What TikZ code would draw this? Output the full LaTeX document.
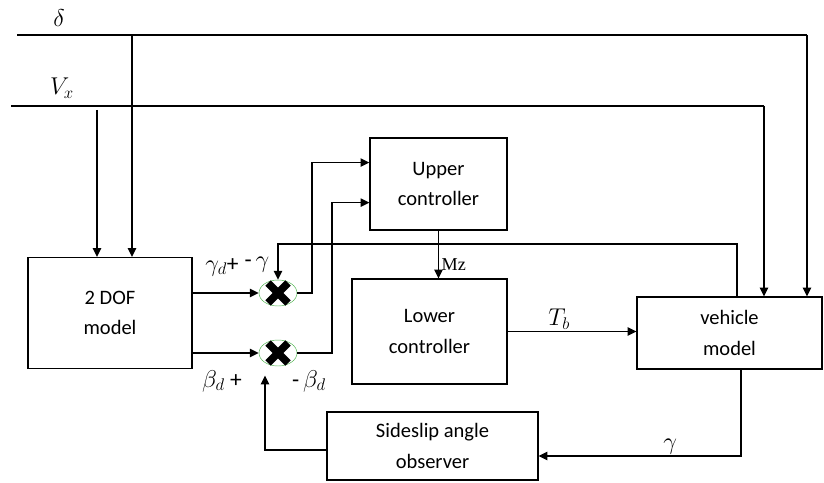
\documentclass[tikz,border=0pt]{standalone}
\usepackage{fontspec}
\setmainfont{Carlito}
\newfontfamily\labserif{Liberation Serif}
\usetikzlibrary{arrows.meta,shapes.geometric,calc}

\begin{document}
\begin{tikzpicture}[x=0.03cm,y=-0.03cm,
  block/.style={draw,line width=1pt,align=center,
    font=\fontsize{17.5}{26}\selectfont},
  sumx/.style={ellipse,draw=green!40!gray,thin,minimum width=1.14cm,
    minimum height=0.78cm,inner sep=0pt},
  sig/.style={line width=1.35pt,-{Triangle[length=7.5pt,width=7pt]}},
  wire/.style={line width=1.35pt},
  lab/.style={font=\fontsize{20}{22}\selectfont,inner sep=1pt}]
  \useasboundingbox (0,0) rectangle (824,482);

  % blocks
  \node[block,minimum width=4.92cm,minimum height=3.33cm] (dof) at (110,313) {2 DOF\\model};
  \node[block,minimum width=4.11cm,minimum height=2.76cm] (upper) at (438.5,184) {Upper\\controller};
  \node[block,minimum width=4.65cm,minimum height=3.15cm] (lower) at (429.5,331.5) {Lower\\controller};
  \node[block,minimum width=5.55cm,minimum height=2.16cm] (vehicle) at (729.5,333) {vehicle\\model};
  \node[block,minimum width=6.33cm,minimum height=2.04cm] (obs) at (432.5,446) {Sideslip angle\\observer};

  % summing points
  \node[sumx] (sumg) at (278,293) {};
  \node[sumx] (sumb) at (278,353) {};
  \foreach \s in {sumg,sumb}{
    \draw[line width=6.5pt] ($(\s)+(-10,-10)$) -- ($(\s)+(10,10)$);
    \draw[line width=6.5pt] ($(\s)+(-10,10)$) -- ($(\s)+(10,-10)$);}

  % inputs
  \coordinate (d0) at (17,35);  \coordinate (d1) at (807,35);  \coordinate (d2) at (132,35);
  \coordinate (v0) at (11,106); \coordinate (v1) at (764,106); \coordinate (v2) at (97,110);
  \node[lab] (dlab) at (59,18) {$\delta$};
  \node[lab] (vlab) at (62,88) {$V_x$};
  \draw[wire] (d0) -- (d1);
  \draw[sig] (d1) -- (d1 |- vehicle.north);
  \draw[wire] (v0) -- (v1);
  \draw[sig] (v1) -- (v1 |- vehicle.north);
  \draw[sig] (d2) -- (d2 |- dof.north);
  \draw[sig] (v2) -- (v2 |- dof.north);

  % references to the summing points
  \draw[sig] (dof.east |- sumg) -- (sumg.west);
  \draw[sig] (dof.east |- sumb) -- (sumb.west);
  \node[lab] (gdlab) at (222,267) {$\gamma_d$+};
  \node[lab] (glab) at (257,265) {-\,$\gamma$};
  \node[lab] (bdlab) at (222,381) {$\beta_d$ +};
  \node[lab] (blab) at (309,381) {-\,$\beta_d$};

  % errors to the upper controller
  \coordinate (u1) at ($(upper.north west)!0.27!(upper.south west)$);
  \coordinate (u2) at ($(upper.north west)!0.70!(upper.south west)$);
  \draw[sig] (sumg.east) -- ++(15,0) |- (u1);
  \draw[sig] (sumb.east) -- ++(35,0) |- (u2);

  % controllers to vehicle
  \draw[sig] (upper.south) -- (upper.south |- lower.north)
    node[pos=0.7,right,inner sep=2pt,font=\labserif\fontsize{15.5}{18}\selectfont] (mz) {Mz};
  \draw[sig] (lower.east) -- (lower.east -| vehicle.west)
    node[pos=0.4,above,lab] (tb) {$T_b$};

  % yaw rate feedback
  \coordinate (fb) at (737,244);
  \draw[sig] (vehicle.north -| fb) -- (fb) -| (sumg.north);

  % observer loop
  \coordinate (gv) at (741,456);
  \coordinate (ob) at (265,450);
  \draw[sig] (vehicle.south -| gv) -- (gv) -- (gv -| obs.east)
    node[pos=0.35,above,lab] (gobs) {$\gamma$};
  \draw[sig,shorten >=8pt] (obs.west |- ob) -- (ob) -- (ob |- sumb.south);
\end{tikzpicture}
\end{document}
